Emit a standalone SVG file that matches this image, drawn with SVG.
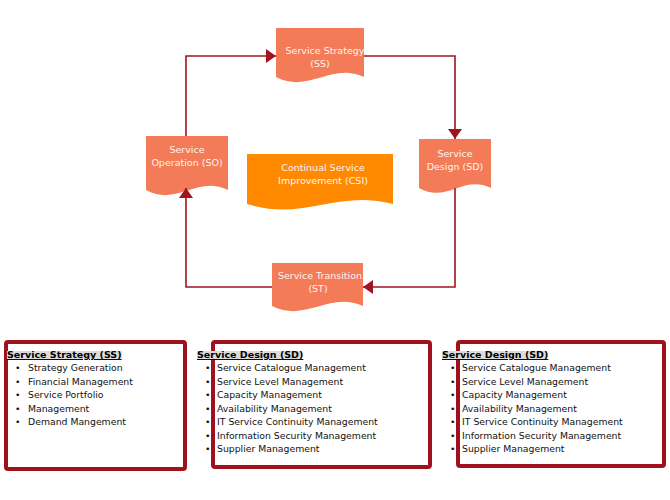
<svg xmlns="http://www.w3.org/2000/svg" width="670" height="500" viewBox="0 0 670 500">
<defs>
<marker id="arr" markerUnits="userSpaceOnUse" markerWidth="10" markerHeight="14" viewBox="0 0 10 14" refX="10" refY="7" orient="auto">
<path d="M0,0 L10,7 L0,14 Z" fill="#a0141e"/>
</marker>
</defs>
<style>
.doc{fill:#f47b57;}
.csi{fill:#ff8a00;}
.nt{font-family:"DejaVu Sans",sans-serif;font-size:9.5px;fill:#fff3ee;text-anchor:middle;}
.conn{fill:none;stroke:#a0141e;stroke-width:1.6;}
.box{fill:#fff;stroke:#a0111e;stroke-width:4;}
.ttl{font-family:"DejaVu Sans",sans-serif;font-size:9.5px;font-weight:bold;fill:#000;text-decoration:underline;}
.li{font-family:"DejaVu Sans",sans-serif;font-size:9.3px;fill:#111;}
.hl{fill:#dcdcdc;}
</style>
<g id="node-ss">
<path class="doc" d="M276,28 H364 V77 C330,62 310,94 276,77 Z"/>
<text class="nt" x="325" y="54">Service Strategy</text>
<text class="nt" x="320" y="67">(SS)</text>
</g>
<g id="node-sd">
<path class="doc" d="M419,139 H491 V188 C463,174 447,204 419,188 Z"/>
<text class="nt" x="455" y="157">Service</text>
<text class="nt" x="455" y="170">Design (SD)</text>
</g>
<g id="node-so">
<path class="doc" d="M146,136 H228 V190 C196,175 178,207 146,190 Z"/>
<text class="nt" x="187" y="153">Service</text>
<text class="nt" x="187" y="166">Operation (SO)</text>
</g>
<g id="node-csi">
<path class="csi" d="M247,154 H393 V204 C337,189 303,222 247,204 Z"/>
<text class="nt" x="323" y="171">Continual Service</text>
<text class="nt" x="323" y="184">Improvement (CSI)</text>
</g>
<g id="node-st">
<path class="doc" d="M272,263 H363 V306 C328,291 307,323 272,306 Z"/>
<text class="nt" x="320" y="279">Service Transition</text>
<text class="nt" x="318" y="292">(ST)</text>
</g>
<g id="connectors">
<path class="conn" d="M364,56 H455 V139" marker-end="url(#arr)"/>
<path class="conn" d="M455,188 V287 H363" marker-end="url(#arr)"/>
<path class="conn" d="M272,287 H186 V188" marker-end="url(#arr)"/>
<path class="conn" d="M186,136 V56 H276" marker-end="url(#arr)"/>
</g>
<g id="box-ss">
<rect class="box" x="6" y="342" width="179" height="127" rx="2"/>
<rect class="hl" x="7" y="351" width="115" height="8"/>
<text class="ttl" x="7" y="358">Service Strategy (SS)</text>
<g class="li">
<text x="15" y="371">•</text><text x="28" y="371">Strategy Generation</text>
<text x="15" y="384.5">•</text><text x="28" y="384.5">Financial Management</text>
<text x="15" y="398">•</text><text x="28" y="398">Service Portfolio</text>
<text x="15" y="411.5">•</text><text x="28" y="411.5">Management</text>
<text x="15" y="425">•</text><text x="28" y="425">Demand Mangement</text>
</g>
</g>
<g id="box-sd1">
<rect class="box" x="213" y="342" width="217" height="125" rx="2"/>
<rect class="hl" x="197" y="351" width="105" height="8"/>
<text class="ttl" x="197" y="358">Service Design (SD)</text>
<g class="li">
<text x="205" y="371">•</text><text x="217" y="371">Service Catalogue Management</text>
<text x="205" y="384.5">•</text><text x="217" y="384.5">Service Level Management</text>
<text x="205" y="398">•</text><text x="217" y="398">Capacity Management</text>
<text x="205" y="411.5">•</text><text x="217" y="411.5">Availability Management</text>
<text x="205" y="425">•</text><text x="217" y="425">IT Service Continuity Management</text>
<text x="205" y="438.5">•</text><text x="217" y="438.5">Information Security Management</text>
<text x="205" y="452">•</text><text x="217" y="452">Supplier Management</text>
</g>
</g>
<g id="box-sd2">
<rect class="box" x="458" y="342" width="206" height="124" rx="2"/>
<rect class="hl" x="442" y="351" width="105" height="8"/>
<text class="ttl" x="442" y="358">Service Design (SD)</text>
<g class="li">
<text x="450" y="371">•</text><text x="462" y="371">Service Catalogue Management</text>
<text x="450" y="384.5">•</text><text x="462" y="384.5">Service Level Management</text>
<text x="450" y="398">•</text><text x="462" y="398">Capacity Management</text>
<text x="450" y="411.5">•</text><text x="462" y="411.5">Availability Management</text>
<text x="450" y="425">•</text><text x="462" y="425">IT Service Continuity Management</text>
<text x="450" y="438.5">•</text><text x="462" y="438.5">Information Security Management</text>
<text x="450" y="452">•</text><text x="462" y="452">Supplier Management</text>
</g>
</g>
</svg>
